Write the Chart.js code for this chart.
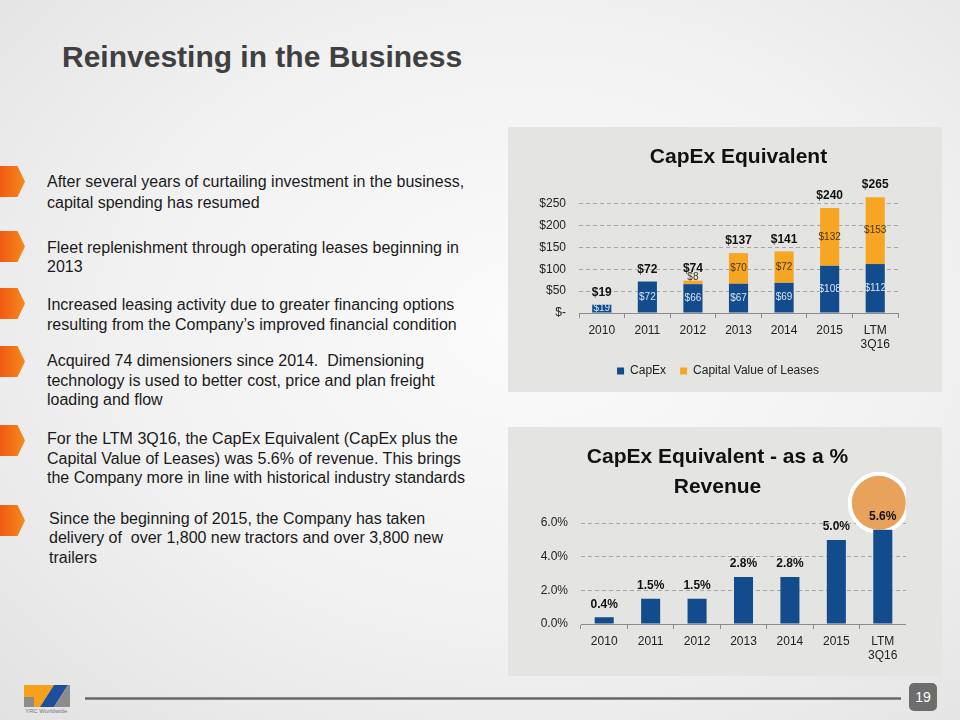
<!DOCTYPE html>
<html>
<head>
<meta charset="utf-8">
<script src="https://cdn.jsdelivr.net/npm/chart.js@4.4.1/dist/chart.umd.min.js"></script>
<style>
  html, body { margin: 0; padding: 0; }
  body {
    width: 960px; height: 720px; position: relative; overflow: hidden;
    font-family: "Liberation Sans", Arial, sans-serif;
    background: radial-gradient(ellipse at 55% 45%, #fbfbfb 0%, #f1f1f1 55%, #e2e2e2 100%);
  }
  .title {
    position: absolute; left: 62px; top: 40px;
    font-size: 30px; font-weight: bold; color: #404040; line-height: 34px;
    white-space: nowrap;
  }
  .arrow {
    position: absolute; left: 0; width: 25px; height: 31px;
    background: linear-gradient(to right, #f05a12, #f7891f);
    clip-path: polygon(0 0, 70% 0, 100% 50%, 70% 100%, 0 100%);
  }
  .para {
    position: absolute; left: 47px; font-size: 16px; color: #1a1a1a;
    line-height: 19.5px; white-space: nowrap;
  }
  .panel { position: absolute; left: 508px; width: 434px; background: #e4e4e2; }
  canvas { position: absolute; }
  .footline {
    position: absolute; left: 85px; top: 697px; width: 816px; height: 3px;
    background: linear-gradient(#9a9a9a, #666 50%, #9a9a9a);
  }
  .page {
    position: absolute; left: 909px; top: 683px; width: 28px; height: 28px;
    background: #6d6d6d; border-radius: 5px; color: #fff; font-size: 14px;
    line-height: 28px; text-align: center;
  }
  .logo { position: absolute; left: 24px; top: 685px; }
  .logotext { position: absolute; left: 25px; top: 708px; font-size: 6px; color: #777; }
</style>
</head>
<body>
<div class="title">Reinvesting in the Business</div>

<div class="arrow" style="top:166px"></div>
<div class="para" style="top:172px; line-height:20.6px">After several years of curtailing investment in the business,<br>capital spending has resumed</div>

<div class="arrow" style="top:231px"></div>
<div class="para" style="top:237.5px">Fleet replenishment through operating leases beginning in<br>2013</div>

<div class="arrow" style="top:288px"></div>
<div class="para" style="top:295px">Increased leasing activity due to greater financing options<br>resulting from the Company’s improved financial condition</div>

<div class="arrow" style="top:346px"></div>
<div class="para" style="top:351px">Acquired 74 dimensioners since 2014.&nbsp; Dimensioning<br>technology is used to better cost, price and plan freight<br>loading and flow</div>

<div class="arrow" style="top:425px"></div>
<div class="para" style="top:429px">For the LTM 3Q16, the CapEx Equivalent (CapEx plus the<br>Capital Value of Leases) was 5.6% of revenue. This brings<br>the Company more in line with historical industry standards</div>

<div class="arrow" style="top:505px"></div>
<div class="para" style="top:508.5px; left:49px">Since the beginning of 2015, the Company has taken<br>delivery of &nbsp;over 1,800 new tractors and over 3,800 new<br>trailers</div>

<div class="panel" style="top:127px; height:265px"></div>
<canvas id="capexChart" width="368" height="264" style="left:538px; top:127px"></canvas>

<div class="panel" style="top:427px; height:249px"></div>
<canvas id="pctChart" width="377" height="249" style="left:529px; top:427px"></canvas>

<svg class="logo" width="54" height="22" viewBox="0 0 54 22">
  <polygon points="0,0 30,0 16,22 10,22 10,12 0,12" fill="#f5a11c"/>
  <polygon points="0,12 10,12 10,22 0,22" fill="#8c8c8c"/>
  <polygon points="30,0 44,0 30,22 16,22" fill="#1d4f9c"/>
  <polygon points="44,0 46,0 46,22 30,22" fill="#8c8c8c"/>
</svg>
<div class="logotext">YRC Worldwide</div>
<div class="footline"></div>
<div class="page">19</div>

<script>
const FONT = "'Liberation Sans', Arial, sans-serif";

const years = ["2010", "2011", "2012", "2013", "2014", "2015", ["LTM", "3Q16"]];
const capex = [19, 72, 66, 67, 69, 108, 112];
const leases = [null, null, 8, 70, 72, 132, 153];
const capexTotals = [19, 72, 74, 137, 141, 240, 265];
const pctRevenue = [0.4, 1.5, 1.5, 2.8, 2.8, 5.0, 5.6];
const dollarTicks = [0, 50, 100, 150, 200, 250];
const pctTicks = [0, 2, 4, 6];

const BLUE = "#124c8c";
const ORANGE = "#f6a623";
const GRID = "#a6a6a6";
const AXIS = "#8c8c8c";
const TEXT = "#222";

Chart.defaults.font.family = FONT;
Chart.defaults.color = TEXT;

function xScale(height) {
  return {
    stacked: true,
    grid: { display: true, drawOnChartArea: false, color: AXIS, tickLength: 5 },
    border: { display: true, color: AXIS, width: 1 },
    ticks: { color: TEXT, font: { size: 12, lineHeight: 1.15 }, padding: 6, maxRotation: 0 },
    afterFit: s => { s.height = height; }
  };
}

function yScale(max, tickList, width, fmt) {
  return {
    stacked: true,
    min: 0,
    max: max,
    afterBuildTicks: s => { s.ticks = tickList.map(v => ({ value: v })); },
    afterFit: s => { s.width = width; },
    grid: {
      drawTicks: false,
      color: c => (c.tick && c.tick.value === 0 ? "rgba(0,0,0,0)" : GRID)
    },
    border: { display: false, dash: [4, 3] },
    ticks: { color: TEXT, font: { size: 12 }, padding: 13, callback: fmt }
  };
}

const capexLabels = {
  id: "capexLabels",
  afterDatasetsDraw(chart) {
    const ctx = chart.ctx;
    const m0 = chart.getDatasetMeta(0);
    const m1 = chart.getDatasetMeta(1);
    ctx.save();
    ctx.textAlign = "center";
    ctx.textBaseline = "middle";
    m0.data.forEach((bar, i) => {
      ctx.font = "10px " + FONT;
      ctx.fillStyle = "#d8e4f3";
      ctx.fillText("$" + capex[i], bar.x, (bar.y + bar.base) / 2);
      let top = bar.y;
      if (leases[i] != null) {
        const lb = m1.data[i];
        const h = lb.base - lb.y;
        ctx.fillStyle = "#4a3512";
        ctx.fillText("$" + leases[i], lb.x, h < 8 ? lb.y - 3 : (lb.y + lb.base) / 2);
        top = lb.y;
      }
      ctx.font = "bold 12px " + FONT;
      ctx.fillStyle = "#111";
      ctx.fillText("$" + capexTotals[i], bar.x, top - 12);
    });
    ctx.restore();
  }
};

const pctLabels = {
  id: "pctLabels",
  beforeDatasetsDraw(chart) {
    const ctx = chart.ctx;
    const last = chart.getDatasetMeta(0).data[pctRevenue.length - 1];
    const cx = last.x - 4, cy = last.y - 27;
    ctx.save();
    ctx.beginPath();
    ctx.arc(cx, cy, 31, 0, Math.PI * 2);
    ctx.fillStyle = "#ffffff";
    ctx.fill();
    ctx.beginPath();
    ctx.arc(cx, cy, 27, 0, Math.PI * 2);
    ctx.fillStyle = "#e9a25c";
    ctx.fill();
    ctx.restore();
  },
  afterDatasetsDraw(chart) {
    const ctx = chart.ctx;
    ctx.save();
    ctx.textAlign = "center";
    ctx.textBaseline = "middle";
    ctx.font = "bold 12px " + FONT;
    ctx.fillStyle = "#111";
    chart.getDatasetMeta(0).data.forEach((bar, i) => {
      ctx.fillText(pctRevenue[i].toFixed(1) + "%", bar.x, bar.y - 13);
    });
    ctx.restore();
  }
};

new Chart(document.getElementById("capexChart"), {
  type: "bar",
  data: {
    labels: years,
    datasets: [
      { label: "CapEx", data: capex, backgroundColor: BLUE, categoryPercentage: 1, barPercentage: 0.42 },
      { label: "Capital Value of Leases", data: leases, backgroundColor: ORANGE, categoryPercentage: 1, barPercentage: 0.42 }
    ]
  },
  options: {
    responsive: false,
    animation: false,
    layout: { padding: { left: 0, right: 8, top: 0, bottom: 4 } },
    plugins: {
      title: {
        display: true, text: "CapEx Equivalent", fullSize: false, color: "#111",
        font: { size: 21, weight: "bold", lineHeight: 1.2 },
        padding: { top: 17.4, bottom: 25.4 }
      },
      legend: {
        position: "bottom",
        labels: { boxWidth: 7, boxHeight: 7, padding: 14, color: TEXT, font: { size: 12 } }
      },
      tooltip: { enabled: false }
    },
    scales: {
      x: xScale(38),
      y: yScale(270, dollarTicks, 41, v => (v === 0 ? "$-" : "$" + v))
    }
  },
  plugins: [capexLabels]
});

new Chart(document.getElementById("pctChart"), {
  type: "bar",
  data: {
    labels: years,
    datasets: [
      { label: "% Revenue", data: pctRevenue, backgroundColor: BLUE, categoryPercentage: 1, barPercentage: 0.41 }
    ]
  },
  options: {
    responsive: false,
    animation: false,
    layout: { padding: 0 },
    plugins: {
      title: {
        display: true, text: ["CapEx Equivalent - as a %", "Revenue"], color: "#111",
        font: { size: 21, weight: "bold", lineHeight: 1.43 },
        padding: { top: 15, bottom: 7.6 }
      },
      legend: { display: false },
      tooltip: { enabled: false }
    },
    scales: {
      x: xScale(52),
      y: yScale(6.8, pctTicks, 52, v => v.toFixed(1) + "%")
    }
  },
  plugins: [pctLabels]
});
</script>
</body>
</html>
